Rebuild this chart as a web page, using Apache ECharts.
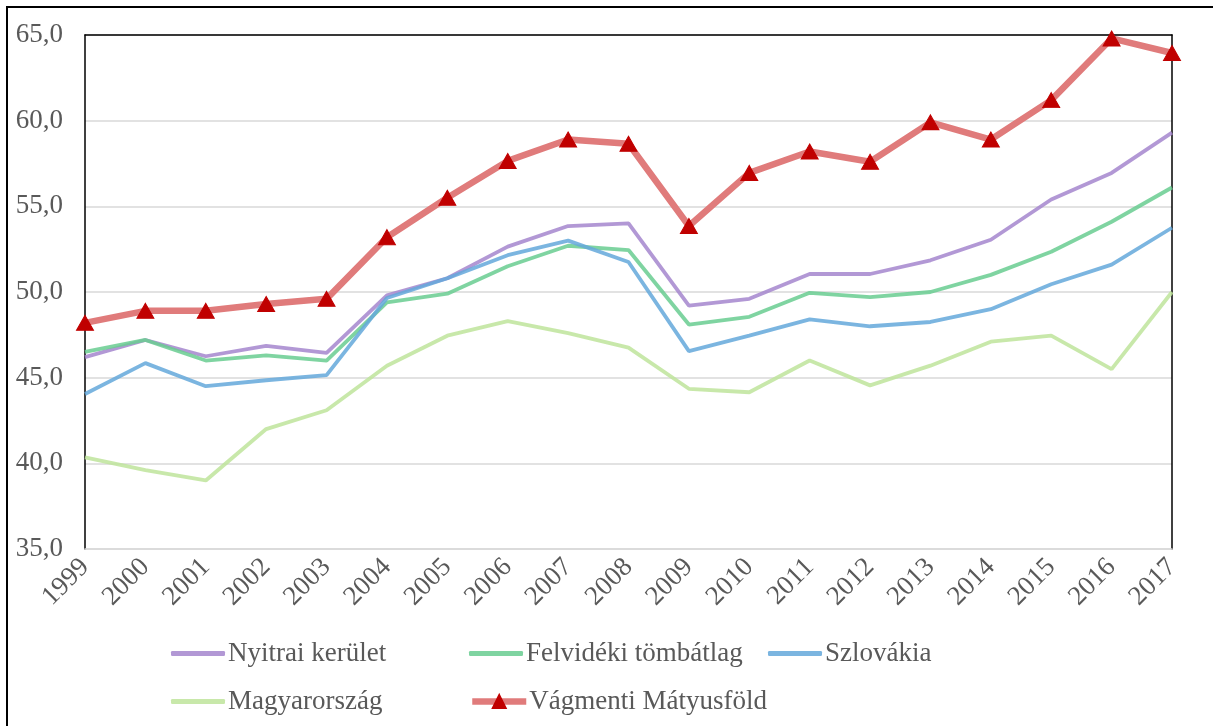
<!DOCTYPE html>
<html>
<head>
<meta charset="utf-8">
<script src="https://cdn.jsdelivr.net/npm/echarts@6/dist/echarts.min.js"></script>
<style>
  html, body { margin: 0; padding: 0; background: #fff; }
  #main { width: 1213px; height: 726px; }
</style>
</head>
<body>
<div id="main"></div>
<script>
// évek
var years = ['1999','2000','2001','2002','2003','2004','2005','2006','2007','2008',
             '2009','2010','2011','2012','2013','2014','2015','2016','2017'];
var nyitrai     = [46.2, 47.2, 46.25, 46.85, 46.45, 49.8, 50.8, 52.65, 53.85, 54.0, 49.2, 49.6, 51.05, 51.05, 51.85, 53.05, 55.4, 56.95, 59.3];
var felvideki   = [46.5, 47.2, 46.0, 46.3, 46.0, 49.4, 49.9, 51.5, 52.7, 52.45, 48.1, 48.55, 49.95, 49.7, 50.0, 51.0, 52.35, 54.1, 56.1];
var szlovakia   = [44.05, 45.85, 44.5, 44.85, 45.15, 49.65, 50.8, 52.15, 53.0, 51.75, 46.55, 47.45, 48.4, 48.0, 48.25, 49.0, 50.45, 51.6, 53.75];
var magyar      = [40.35, 39.6, 39.0, 42.0, 43.1, 45.7, 47.45, 48.3, 47.6, 46.75, 44.35, 44.15, 46.0, 44.55, 45.7, 47.1, 47.45, 45.5, 50.0];
var vagmenti    = [48.2, 48.9, 48.9, 49.3, 49.6, 53.2, 55.5, 57.65, 58.9, 58.65, 53.85, 56.95, 58.2, 57.6, 59.9, 58.9, 61.2, 64.8, 63.95];
var seriesNames = ['Nyitrai kerület', 'Felvidéki tömbátlag', 'Szlovákia', 'Magyarország', 'Vágmenti Mátyusföld'];

(function () {
    var font = 'Liberation Serif'
    var myChart = echarts.init(document.querySelector('#main'))

    function plain(name, data, color) {
        return {
            name: name, type: 'line', data: data,
            symbol: 'none', smooth: false,
            lineStyle: { color: color, width: 3.8 },
            itemStyle: { color: color }
        }
    }

    // egy-egy jelmagyarázat elem, hogy az oszlopok igazodjanak
    function leg(name, left, top, lineOnly) {
        var l = {
            data: [name], left: left, top: top, padding: 0,
            itemWidth: 54, itemHeight: 16, itemGap: 4,
            lineStyle: { width: 6.5 },
            textStyle: { fontFamily: font, fontSize: 27, color: '#595959', padding: [0, 0, 0, -2] }
        }
        if (lineOnly) {
            l.icon = 'roundRect'
            l.itemHeight = 5
        }
        return l
    }

    var option = {
        animation: false,
        backgroundColor: '#fff',
        grid: { left: 85, right: 41, top: 35, bottom: 177 },
        legend: [
            leg(seriesNames[0], 171, 640, true),
            leg(seriesNames[1], 469, 640, true),
            leg(seriesNames[2], 768, 640, true),
            leg(seriesNames[3], 171, 688, true),
            leg(seriesNames[4], 469, 688, false)
        ],
        xAxis: [{
            type: 'category', data: years, boundaryGap: false,
            axisLine: { lineStyle: { color: '#d9d9d9', width: 1.5 } },
            axisTick: { show: false },
            axisLabel: { rotate: 45, margin: 14, fontFamily: font, fontSize: 27, color: '#595959' }
        }, {
            type: 'category', data: years, boundaryGap: false, position: 'top',
            axisLine: { lineStyle: { color: '#000', width: 1.5 } },
            axisTick: { show: false }, axisLabel: { show: false }
        }],
        yAxis: [{
            type: 'value', min: 35, max: 65, interval: 5,
            axisLine: { show: true, lineStyle: { color: '#000', width: 1.5 } },
            axisTick: { show: false },
            splitLine: { lineStyle: { color: '#d9d9d9', width: 1.5 } },
            axisLabel: {
                margin: 22, fontFamily: font, fontSize: 27, color: '#595959',
                formatter: function (v) { return v.toFixed(1).replace('.', ',') }
            }
        }, {
            type: 'value', min: 35, max: 65, interval: 5, position: 'right',
            axisLine: { show: true, lineStyle: { color: '#000', width: 1.5 } },
            axisTick: { show: false }, axisLabel: { show: false }, splitLine: { show: false }
        }],
        graphic: [{
            type: 'polyline', silent: true,
            shape: { points: [[7, 730], [7, 7], [1220, 7]] },
            style: { stroke: '#000', lineWidth: 2, fill: null }
        }],
        series: [
            plain(seriesNames[0], nyitrai, 'rgba(164,134,206,0.85)'),
            plain(seriesNames[1], felvideki, 'rgba(105,205,145,0.85)'),
            plain(seriesNames[2], szlovakia, 'rgba(100,168,218,0.85)'),
            plain(seriesNames[3], magyar, 'rgba(190,228,155,0.85)'),
            {
                name: seriesNames[4], type: 'line', data: vagmenti,
                symbol: 'triangle', symbolSize: [17, 15], showSymbol: true,
                lineStyle: { color: '#e07b7b', width: 6.5 },
                itemStyle: { color: '#c00000', borderColor: '#c00000', borderWidth: 1 },
                z: 5
            }
        ]
    }
    myChart.setOption(option)
    window.addEventListener('resize', function () { myChart.resize() })
})()
</script>
</body>
</html>
